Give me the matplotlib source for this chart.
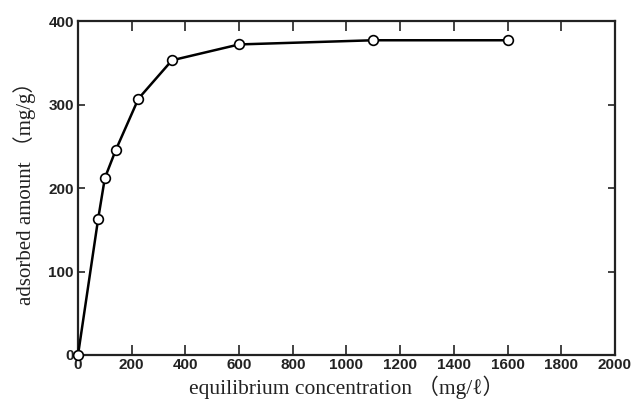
import matplotlib.pyplot as plt

# equilibrium concentration vs adsorbed amount
conc = [0, 75, 100, 140, 225, 350, 600, 1100, 1600]
adsorbed = [0, 163, 212, 245, 307, 353, 372, 377, 377]

x_ticks = list(range(0, 2001, 200))
y_ticks = [0, 100, 200, 300, 400]

label_font = ['Liberation Serif', 'Noto Sans CJK JP', 'DejaVu Serif']

fig = plt.figure(figsize=(6.41, 4.05), dpi=100)
ax = fig.add_axes([0.1217, 0.1235, 0.8377, 0.8245])

ax.plot(conc, adsorbed, color='black', lw=1.8, marker='o', ms=7,
        mfc='white', mec='black', mew=1.2, clip_on=False, zorder=3)

ax.set_xlim(0, 2000)
ax.set_ylim(0, 400)
ax.set_xticks(x_ticks)
ax.set_yticks(y_ticks)
ax.tick_params(direction='in', top=True, right=True, width=1.2, color='#222222')
ax.tick_params(axis='x', length=7, pad=2)
ax.tick_params(axis='y', length=5, pad=3)
for lab in ax.get_xticklabels() + ax.get_yticklabels():
    lab.set_family('Liberation Sans')
    lab.set_weight('bold')
    lab.set_fontsize(11)
    lab.set_color('#222222')

for s in ax.spines.values():
    s.set_linewidth(1.6)
    s.set_color('#222222')

ax.set_xlabel('equilibrium concentration （mg/ℓ）', family=label_font,
              fontsize=15.5, labelpad=3, color='#222222')
ax.set_ylabel('adsorbed amount （mg/g）', family=label_font,
              fontsize=15, labelpad=9, color='#222222')

fig.savefig('out.png', dpi=100)
